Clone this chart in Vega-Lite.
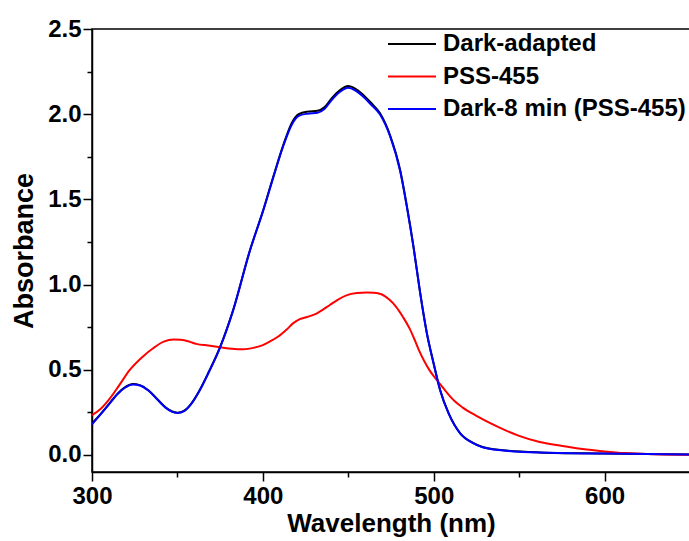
{
  "$schema": "https://vega.github.io/schema/vega-lite/v6.json",
  "autosize": {"type": "none"},
  "padding": {"left": 92, "top": 29, "right": 0, "bottom": 69},
  "width": 598,
  "height": 443,
  "background": "white",
  "config": {
    "view": {"stroke": "black", "strokeWidth": 1.5},
    "font": "Liberation Sans"
  },
  "datasets": {
    "spectra": [
      {"series": "Dark-adapted", "wl": 300, "abs": 0.185},
      {"series": "Dark-adapted", "wl": 305, "abs": 0.24},
      {"series": "Dark-adapted", "wl": 310, "abs": 0.30},
      {"series": "Dark-adapted", "wl": 315, "abs": 0.36},
      {"series": "Dark-adapted", "wl": 319, "abs": 0.395},
      {"series": "Dark-adapted", "wl": 324, "abs": 0.416},
      {"series": "Dark-adapted", "wl": 328, "abs": 0.41},
      {"series": "Dark-adapted", "wl": 333, "abs": 0.38},
      {"series": "Dark-adapted", "wl": 338, "abs": 0.33},
      {"series": "Dark-adapted", "wl": 343, "abs": 0.28},
      {"series": "Dark-adapted", "wl": 347, "abs": 0.255},
      {"series": "Dark-adapted", "wl": 350, "abs": 0.248},
      {"series": "Dark-adapted", "wl": 354, "abs": 0.26},
      {"series": "Dark-adapted", "wl": 358, "abs": 0.3},
      {"series": "Dark-adapted", "wl": 363, "abs": 0.38},
      {"series": "Dark-adapted", "wl": 368, "abs": 0.48},
      {"series": "Dark-adapted", "wl": 375, "abs": 0.634},
      {"series": "Dark-adapted", "wl": 382.6, "abs": 0.85},
      {"series": "Dark-adapted", "wl": 392.4, "abs": 1.2},
      {"series": "Dark-adapted", "wl": 400, "abs": 1.43},
      {"series": "Dark-adapted", "wl": 406, "abs": 1.63},
      {"series": "Dark-adapted", "wl": 412, "abs": 1.82},
      {"series": "Dark-adapted", "wl": 417, "abs": 1.95},
      {"series": "Dark-adapted", "wl": 421, "abs": 2.0},
      {"series": "Dark-adapted", "wl": 426, "abs": 2.015},
      {"series": "Dark-adapted", "wl": 432, "abs": 2.02},
      {"series": "Dark-adapted", "wl": 436, "abs": 2.04},
      {"series": "Dark-adapted", "wl": 440, "abs": 2.09},
      {"series": "Dark-adapted", "wl": 445, "abs": 2.14},
      {"series": "Dark-adapted", "wl": 450, "abs": 2.165},
      {"series": "Dark-adapted", "wl": 454, "abs": 2.15},
      {"series": "Dark-adapted", "wl": 458, "abs": 2.12},
      {"series": "Dark-adapted", "wl": 463, "abs": 2.07},
      {"series": "Dark-adapted", "wl": 468.6, "abs": 2.005},
      {"series": "Dark-adapted", "wl": 474.5, "abs": 1.875},
      {"series": "Dark-adapted", "wl": 480.4, "abs": 1.67},
      {"series": "Dark-adapted", "wl": 484.3, "abs": 1.46},
      {"series": "Dark-adapted", "wl": 488.2, "abs": 1.22},
      {"series": "Dark-adapted", "wl": 492.1, "abs": 0.95},
      {"series": "Dark-adapted", "wl": 496, "abs": 0.715},
      {"series": "Dark-adapted", "wl": 499.9, "abs": 0.54},
      {"series": "Dark-adapted", "wl": 503.8, "abs": 0.38},
      {"series": "Dark-adapted", "wl": 508.7, "abs": 0.245},
      {"series": "Dark-adapted", "wl": 515.5, "abs": 0.127},
      {"series": "Dark-adapted", "wl": 523.3, "abs": 0.069},
      {"series": "Dark-adapted", "wl": 535, "abs": 0.033},
      {"series": "Dark-adapted", "wl": 562, "abs": 0.015},
      {"series": "Dark-adapted", "wl": 600, "abs": 0.008},
      {"series": "Dark-adapted", "wl": 650, "abs": 0.002},

      {"series": "PSS-455", "wl": 300, "abs": 0.234},
      {"series": "PSS-455", "wl": 305, "abs": 0.27},
      {"series": "PSS-455", "wl": 310.5, "abs": 0.332},
      {"series": "PSS-455", "wl": 316, "abs": 0.41},
      {"series": "PSS-455", "wl": 322, "abs": 0.498},
      {"series": "PSS-455", "wl": 330, "abs": 0.58},
      {"series": "PSS-455", "wl": 336, "abs": 0.628},
      {"series": "PSS-455", "wl": 342, "abs": 0.665},
      {"series": "PSS-455", "wl": 347.6, "abs": 0.678},
      {"series": "PSS-455", "wl": 352, "abs": 0.676},
      {"series": "PSS-455", "wl": 357, "abs": 0.665},
      {"series": "PSS-455", "wl": 361, "abs": 0.652},
      {"series": "PSS-455", "wl": 368, "abs": 0.642},
      {"series": "PSS-455", "wl": 375, "abs": 0.632},
      {"series": "PSS-455", "wl": 382, "abs": 0.623},
      {"series": "PSS-455", "wl": 388.5, "abs": 0.62},
      {"series": "PSS-455", "wl": 395, "abs": 0.63},
      {"series": "PSS-455", "wl": 400, "abs": 0.645},
      {"series": "PSS-455", "wl": 404, "abs": 0.665},
      {"series": "PSS-455", "wl": 409, "abs": 0.695},
      {"series": "PSS-455", "wl": 413.8, "abs": 0.735},
      {"series": "PSS-455", "wl": 418, "abs": 0.775},
      {"series": "PSS-455", "wl": 421.6, "abs": 0.797},
      {"series": "PSS-455", "wl": 426, "abs": 0.81},
      {"series": "PSS-455", "wl": 431.4, "abs": 0.83},
      {"series": "PSS-455", "wl": 435, "abs": 0.852},
      {"series": "PSS-455", "wl": 439.2, "abs": 0.88},
      {"series": "PSS-455", "wl": 444, "abs": 0.912},
      {"series": "PSS-455", "wl": 448.9, "abs": 0.937},
      {"series": "PSS-455", "wl": 455, "abs": 0.95},
      {"series": "PSS-455", "wl": 460.6, "abs": 0.953},
      {"series": "PSS-455", "wl": 465, "abs": 0.952},
      {"series": "PSS-455", "wl": 469.4, "abs": 0.943},
      {"series": "PSS-455", "wl": 474, "abs": 0.912},
      {"series": "PSS-455", "wl": 478.1, "abs": 0.868},
      {"series": "PSS-455", "wl": 482, "abs": 0.81},
      {"series": "PSS-455", "wl": 486, "abs": 0.74},
      {"series": "PSS-455", "wl": 489, "abs": 0.672},
      {"series": "PSS-455", "wl": 491.8, "abs": 0.605},
      {"series": "PSS-455", "wl": 494.5, "abs": 0.55},
      {"series": "PSS-455", "wl": 497.5, "abs": 0.498},
      {"series": "PSS-455", "wl": 500.5, "abs": 0.456},
      {"series": "PSS-455", "wl": 503, "abs": 0.425},
      {"series": "PSS-455", "wl": 507, "abs": 0.375},
      {"series": "PSS-455", "wl": 512, "abs": 0.318},
      {"series": "PSS-455", "wl": 517, "abs": 0.278},
      {"series": "PSS-455", "wl": 525, "abs": 0.23},
      {"series": "PSS-455", "wl": 537, "abs": 0.168},
      {"series": "PSS-455", "wl": 550, "abs": 0.112},
      {"series": "PSS-455", "wl": 562, "abs": 0.076},
      {"series": "PSS-455", "wl": 574, "abs": 0.055},
      {"series": "PSS-455", "wl": 587, "abs": 0.035},
      {"series": "PSS-455", "wl": 600, "abs": 0.021},
      {"series": "PSS-455", "wl": 612, "abs": 0.011},
      {"series": "PSS-455", "wl": 625, "abs": 0.005},
      {"series": "PSS-455", "wl": 650, "abs": 0.001},

      {"series": "Dark-8 min (PSS-455)", "wl": 300, "abs": 0.18},
      {"series": "Dark-8 min (PSS-455)", "wl": 305, "abs": 0.238},
      {"series": "Dark-8 min (PSS-455)", "wl": 310, "abs": 0.298},
      {"series": "Dark-8 min (PSS-455)", "wl": 315, "abs": 0.358},
      {"series": "Dark-8 min (PSS-455)", "wl": 319, "abs": 0.393},
      {"series": "Dark-8 min (PSS-455)", "wl": 324, "abs": 0.414},
      {"series": "Dark-8 min (PSS-455)", "wl": 328, "abs": 0.408},
      {"series": "Dark-8 min (PSS-455)", "wl": 333, "abs": 0.378},
      {"series": "Dark-8 min (PSS-455)", "wl": 338, "abs": 0.328},
      {"series": "Dark-8 min (PSS-455)", "wl": 343, "abs": 0.278},
      {"series": "Dark-8 min (PSS-455)", "wl": 347, "abs": 0.253},
      {"series": "Dark-8 min (PSS-455)", "wl": 350, "abs": 0.247},
      {"series": "Dark-8 min (PSS-455)", "wl": 354, "abs": 0.258},
      {"series": "Dark-8 min (PSS-455)", "wl": 358, "abs": 0.298},
      {"series": "Dark-8 min (PSS-455)", "wl": 363, "abs": 0.378},
      {"series": "Dark-8 min (PSS-455)", "wl": 368, "abs": 0.478},
      {"series": "Dark-8 min (PSS-455)", "wl": 375, "abs": 0.632},
      {"series": "Dark-8 min (PSS-455)", "wl": 382.6, "abs": 0.848},
      {"series": "Dark-8 min (PSS-455)", "wl": 392.4, "abs": 1.198},
      {"series": "Dark-8 min (PSS-455)", "wl": 400, "abs": 1.428},
      {"series": "Dark-8 min (PSS-455)", "wl": 406, "abs": 1.625},
      {"series": "Dark-8 min (PSS-455)", "wl": 412, "abs": 1.815},
      {"series": "Dark-8 min (PSS-455)", "wl": 417, "abs": 1.94},
      {"series": "Dark-8 min (PSS-455)", "wl": 421, "abs": 1.99},
      {"series": "Dark-8 min (PSS-455)", "wl": 426, "abs": 2.003},
      {"series": "Dark-8 min (PSS-455)", "wl": 432, "abs": 2.008},
      {"series": "Dark-8 min (PSS-455)", "wl": 436, "abs": 2.03},
      {"series": "Dark-8 min (PSS-455)", "wl": 440, "abs": 2.08},
      {"series": "Dark-8 min (PSS-455)", "wl": 445, "abs": 2.13},
      {"series": "Dark-8 min (PSS-455)", "wl": 450, "abs": 2.155},
      {"series": "Dark-8 min (PSS-455)", "wl": 454, "abs": 2.14},
      {"series": "Dark-8 min (PSS-455)", "wl": 458, "abs": 2.11},
      {"series": "Dark-8 min (PSS-455)", "wl": 463, "abs": 2.06},
      {"series": "Dark-8 min (PSS-455)", "wl": 468.6, "abs": 1.998},
      {"series": "Dark-8 min (PSS-455)", "wl": 474.5, "abs": 1.87},
      {"series": "Dark-8 min (PSS-455)", "wl": 480.4, "abs": 1.665},
      {"series": "Dark-8 min (PSS-455)", "wl": 484.3, "abs": 1.455},
      {"series": "Dark-8 min (PSS-455)", "wl": 488.2, "abs": 1.218},
      {"series": "Dark-8 min (PSS-455)", "wl": 492.1, "abs": 0.948},
      {"series": "Dark-8 min (PSS-455)", "wl": 496, "abs": 0.713},
      {"series": "Dark-8 min (PSS-455)", "wl": 499.9, "abs": 0.538},
      {"series": "Dark-8 min (PSS-455)", "wl": 503.8, "abs": 0.378},
      {"series": "Dark-8 min (PSS-455)", "wl": 508.7, "abs": 0.244},
      {"series": "Dark-8 min (PSS-455)", "wl": 515.5, "abs": 0.126},
      {"series": "Dark-8 min (PSS-455)", "wl": 523.3, "abs": 0.068},
      {"series": "Dark-8 min (PSS-455)", "wl": 535, "abs": 0.032},
      {"series": "Dark-8 min (PSS-455)", "wl": 562, "abs": 0.014},
      {"series": "Dark-8 min (PSS-455)", "wl": 600, "abs": 0.008},
      {"series": "Dark-8 min (PSS-455)", "wl": 650, "abs": 0.002}
    ]
  },
  "data": {"name": "spectra"},
  "transform": [
    {"calculate": "datum.series === 'Dark-adapted' ? 0 : datum.series === 'PSS-455' ? 1 : 2", "as": "order"}
  ],
  "mark": {"type": "line", "strokeWidth": 2, "interpolate": "monotone", "clip": true},
  "encoding": {
    "x": {
      "field": "wl", "type": "quantitative",
      "scale": {"domain": [300, 650], "nice": false, "zero": false},
      "axis": {
        "title": "Wavelength (nm)",
        "values": [300, 350, 400, 450, 500, 550, 600, 650],
        "labelExpr": "datum.value % 100 == 0 ? datum.value : ''",
        "grid": false,
        "domainColor": "black", "domainWidth": 1.5,
        "tickColor": "black", "tickWidth": 1.5,
        "tickSize": {"condition": {"test": "datum.value % 100 != 0", "value": 5}, "value": 9},
        "labelFont": "Liberation Sans", "labelFontWeight": "bold", "labelFontSize": 24, "labelColor": "black",
        "labelPadding": 3, "labelFlush": false, "labelOverlap": false,
        "titleFont": "Liberation Sans", "titleFontWeight": "bold", "titleFontSize": 26, "titleColor": "black",
        "titlePadding": 2
      }
    },
    "y": {
      "field": "abs", "type": "quantitative",
      "scale": {"domain": [-0.1, 2.5], "nice": false, "zero": false},
      "axis": {
        "title": "Absorbance",
        "values": [0, 0.25, 0.5, 0.75, 1, 1.25, 1.5, 1.75, 2, 2.25, 2.5],
        "labelExpr": "datum.value % 0.5 == 0 ? format(datum.value, '.1f') : ''",
        "grid": false,
        "domainColor": "black", "domainWidth": 1.5,
        "tickColor": "black", "tickWidth": 1.5,
        "tickSize": {"condition": {"test": "datum.value % 0.5 != 0", "value": 5}, "value": 9},
        "labelFont": "Liberation Sans", "labelFontWeight": "bold", "labelFontSize": 24, "labelColor": "black",
        "labelPadding": 2, "labelFlush": false, "labelOverlap": false,
        "titleFont": "Liberation Sans", "titleFontWeight": "bold", "titleFontSize": 27, "titleColor": "black",
        "titlePadding": 9
      }
    },
    "color": {
      "field": "series", "type": "nominal",
      "scale": {"domain": ["Dark-adapted", "PSS-455", "Dark-8 min (PSS-455)"], "range": ["#000000", "#ff0000", "#0000ff"]},
      "legend": {
        "title": null,
        "orient": "none",
        "legendX": 304,
        "legendY": -1,
        "symbolType": "M-1.6,0H1.6",
        "symbolSize": 900,
        "symbolStrokeWidth": 2,
        "symbolFillColor": "transparent",
        "labelFont": "Liberation Sans", "labelFontWeight": "bold", "labelFontSize": 24, "labelColor": "black",
        "labelOffset": 15,
        "labelLimit": 400,
        "rowPadding": 4.5
      }
    },
    "order": {"field": "order"}
  }
}
